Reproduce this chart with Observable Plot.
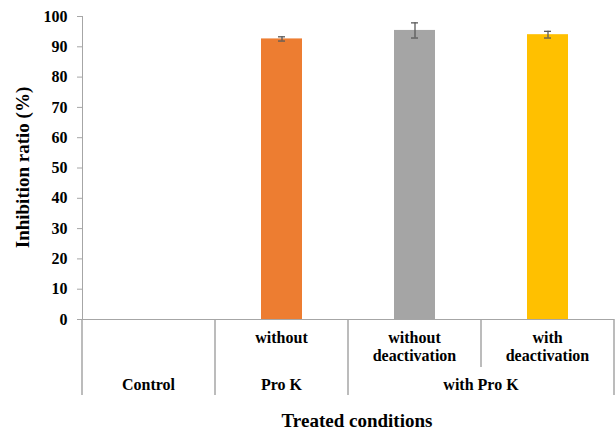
<!DOCTYPE html>
<html>
<head>
<meta charset="utf-8">
<script src="https://cdn.jsdelivr.net/npm/d3@7"></script>
<script src="https://cdn.jsdelivr.net/npm/@observablehq/plot@0.6"></script>
<style>
  html, body { margin: 0; padding: 0; background: #ffffff; }
  #chart svg { display: block; }
</style>
</head>
<body>
<div id="chart"></div>
<script>
// ---- data ----
const categories = ["Control", "without Pro K", "without deactivation", "with deactivation"];
const values = [0, 92.6, 95.4, 94.0];
const errors = [0, 0.7, 2.5, 1.1];
const barColors = ["#4472C4", "#ED7D31", "#A5A5A5", "#FFC000"];
const yTicks = [0, 10, 20, 30, 40, 50, 60, 70, 80, 90, 100];
const row1Labels = [[], ["without"], ["without", "deactivation"], ["with", "deactivation"]];
const row2Labels = ["Control", "Pro K", "with Pro K"];
const row2Spans = [[0, 0], [1, 1], [2, 3]];
const yLabel = "Inhibition ratio (%)";
const xLabel = "Treated conditions";

const data = categories.map((c, i) => ({cat: c, value: values[i], err: errors[i], color: barColors[i]}));
const withErr = data.filter(d => d.err > 0);

const lineColor = "#a6a6a6";
const font = "Liberation Serif";

const plot = Plot.plot({
  width: 616,
  height: 430,
  marginLeft: 82,
  marginRight: 2,
  marginTop: 16,
  marginBottom: 111,
  style: {fontWeight: "bold", fontSize: "16px", color: "#000", background: "#fff"},
  x: {domain: categories, paddingInner: 0.69, paddingOuter: 0.345, axis: null},
  y: {domain: [0, 100], axis: null},
  color: {type: "identity"},
  marks: [
    Plot.barY(data, {x: "cat", y: "value", fill: "color"}),
    Plot.ruleX(withErr, {x: "cat", y1: d => d.value - d.err, y2: d => d.value + d.err, stroke: "#5a5a5a", strokeWidth: 1.3}),
    Plot.tickY(withErr, {x: "cat", y: d => d.value - d.err, stroke: "#5a5a5a", strokeWidth: 1.3, insetLeft: 17, insetRight: 17}),
    Plot.tickY(withErr, {x: "cat", y: d => d.value + d.err, stroke: "#5a5a5a", strokeWidth: 1.3, insetLeft: 17, insetRight: 17}),
    Plot.axisY({ticks: yTicks, tickSize: 5, tickPadding: 10, tickFormat: d => String(d), label: null, stroke: lineColor, fill: "#000", fontSize: 16, fontWeight: "bold"}),
    Plot.frame({anchor: "left", stroke: lineColor}),
    Plot.ruleY([0], {stroke: lineColor})
  ]
});

document.getElementById("chart").appendChild(plot);

// ---- category table and axis titles, positioned with Plot's scales ----
const sx = plot.scale("x");
const sy = plot.scale("y");
const step = sx.step;
const pad = (step - sx.bandwidth) / 2;
const left = c => sx.apply(c) - pad;
const y0 = sy.apply(0);
const svg = d3.select(plot);
const g = svg.append("g").attr("font-weight", "bold").attr("fill", "#000");

// vertical separators
const bounds = categories.map(c => left(c)).concat([left(categories[categories.length - 1]) + step]);
bounds.forEach((bx, i) => {
  const short = (i === 3); // between the two "with Pro K" sub-cells
  g.append("line")
    .attr("x1", bx).attr("x2", bx)
    .attr("y1", y0).attr("y2", short ? y0 + 48 : y0 + 76)
    .attr("stroke", lineColor).attr("stroke-width", 1.5);
});

// first row labels
row1Labels.forEach((lines, i) => {
  const cx = left(categories[i]) + step / 2;
  lines.forEach((t, k) => {
    g.append("text").attr("x", cx).attr("y", y0 + 24 + k * 18)
      .attr("text-anchor", "middle").attr("font-size", 16).text(t);
  });
});

// second row labels
row2Labels.forEach((t, i) => {
  const [a, b] = row2Spans[i];
  const cx = (left(categories[a]) + left(categories[b]) + step) / 2;
  g.append("text").attr("x", cx).attr("y", y0 + 71)
    .attr("text-anchor", "middle").attr("font-size", 16).text(t);
});

// x title
g.append("text").attr("x", 357).attr("y", 427)
  .attr("text-anchor", "middle").attr("font-size", 19).text(xLabel);

// y title
const yMid = (sy.apply(0) + sy.apply(100)) / 2;
g.append("text")
  .attr("transform", `translate(29,${yMid}) rotate(-90)`)
  .attr("text-anchor", "middle").attr("font-size", 19).text(yLabel);

// serif bold everywhere
svg.style("font-family", font);
svg.selectAll("g").style("font-family", font);
svg.selectAll("text").style("font-family", font).style("font-weight", "bold");
</script>
</body>
</html>
